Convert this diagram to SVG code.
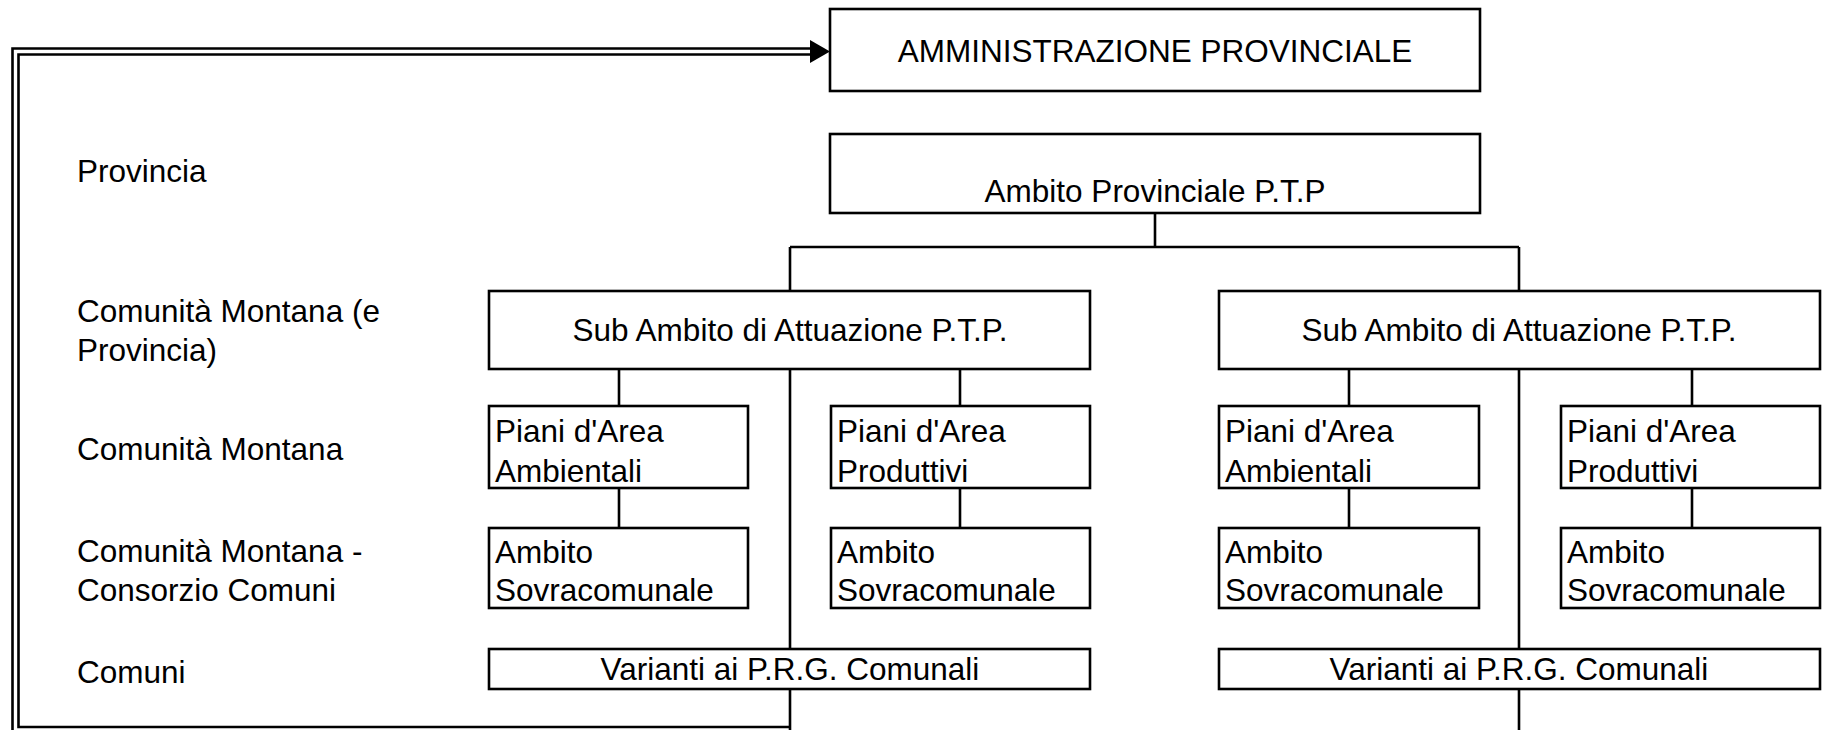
<svg xmlns="http://www.w3.org/2000/svg" width="1827" height="730" viewBox="0 0 1827 730">
<style>
.box{fill:#fff;stroke:#000;stroke-width:2.6}
.ln{fill:none;stroke:#000;stroke-width:2.6}
.t{font-family:"Liberation Sans",Arial,sans-serif;font-size:31.5px;fill:#000}
.c{text-anchor:middle}
</style>
<rect width="1827" height="730" fill="#fff"/>
<g id="connectors">
<path class="ln" d="M1155 213 V247 M790 247 H1519 M790 247 V291 M1519 247 V291"/>
<path class="ln" d="M619 369 V406 M960 369 V406 M790 369 V649 M619 488 V528 M960 488 V528 M790 689 V730"/>
<path class="ln" d="M1349 369 V406 M1692 369 V406 M1519 369 V649 M1349 488 V528 M1692 488 V528 M1519 689 V730"/>
<path class="ln" d="M12.5 735 V48.5 H815"/>
<path class="ln" d="M790 727 H18.5 V54.5 H815"/>
<polygon points="810,40 830,51.5 810,63" fill="#000"/>
</g>
<g id="labels">
<text class="t" x="77" y="182">Provincia</text>
<text class="t" x="77" y="322">Comunità Montana (e</text>
<text class="t" x="77" y="361">Provincia)</text>
<text class="t" x="77" y="460">Comunità Montana</text>
<text class="t" x="77" y="562">Comunità Montana -</text>
<text class="t" x="77" y="601">Consorzio Comuni</text>
<text class="t" x="77" y="683">Comuni</text>
</g>
<g id="amministrazione">
<rect class="box" x="830" y="9" width="650" height="82"/>
<text class="t c" x="1155" y="62">AMMINISTRAZIONE PROVINCIALE</text>
</g>
<g id="ambito-provinciale">
<rect class="box" x="830" y="134" width="650" height="79"/>
<text class="t c" x="1155" y="202">Ambito Provinciale P.T.P</text>
</g>
<g id="sub-left">
<rect class="box" x="489" y="291" width="601" height="78"/>
<text class="t c" x="790" y="341">Sub Ambito di Attuazione P.T.P.</text>
</g>
<g id="sub-right">
<rect class="box" x="1219" y="291" width="601" height="78"/>
<text class="t c" x="1519" y="341">Sub Ambito di Attuazione P.T.P.</text>
</g>
<g id="piani-amb-left">
<rect class="box" x="489" y="406" width="259" height="82"/>
<text class="t" x="495" y="442">Piani d'Area</text>
<text class="t" x="495" y="482">Ambientali</text>
</g>
<g id="piani-prod-left">
<rect class="box" x="831" y="406" width="259" height="82"/>
<text class="t" x="837" y="442">Piani d'Area</text>
<text class="t" x="837" y="482">Produttivi</text>
</g>
<g id="piani-amb-right">
<rect class="box" x="1219" y="406" width="260" height="82"/>
<text class="t" x="1225" y="442">Piani d'Area</text>
<text class="t" x="1225" y="482">Ambientali</text>
</g>
<g id="piani-prod-right">
<rect class="box" x="1561" y="406" width="259" height="82"/>
<text class="t" x="1567" y="442">Piani d'Area</text>
<text class="t" x="1567" y="482">Produttivi</text>
</g>
<g id="sovra-1">
<rect class="box" x="489" y="528" width="259" height="80"/>
<text class="t" x="495" y="563">Ambito</text>
<text class="t" x="495" y="601">Sovracomunale</text>
</g>
<g id="sovra-2">
<rect class="box" x="831" y="528" width="259" height="80"/>
<text class="t" x="837" y="563">Ambito</text>
<text class="t" x="837" y="601">Sovracomunale</text>
</g>
<g id="sovra-3">
<rect class="box" x="1219" y="528" width="260" height="80"/>
<text class="t" x="1225" y="563">Ambito</text>
<text class="t" x="1225" y="601">Sovracomunale</text>
</g>
<g id="sovra-4">
<rect class="box" x="1561" y="528" width="259" height="80"/>
<text class="t" x="1567" y="563">Ambito</text>
<text class="t" x="1567" y="601">Sovracomunale</text>
</g>
<g id="varianti-left">
<rect class="box" x="489" y="649" width="601" height="40"/>
<text class="t c" x="790" y="680">Varianti ai P.R.G. Comunali</text>
</g>
<g id="varianti-right">
<rect class="box" x="1219" y="649" width="601" height="40"/>
<text class="t c" x="1519" y="680">Varianti ai P.R.G. Comunali</text>
</g>
</svg>
